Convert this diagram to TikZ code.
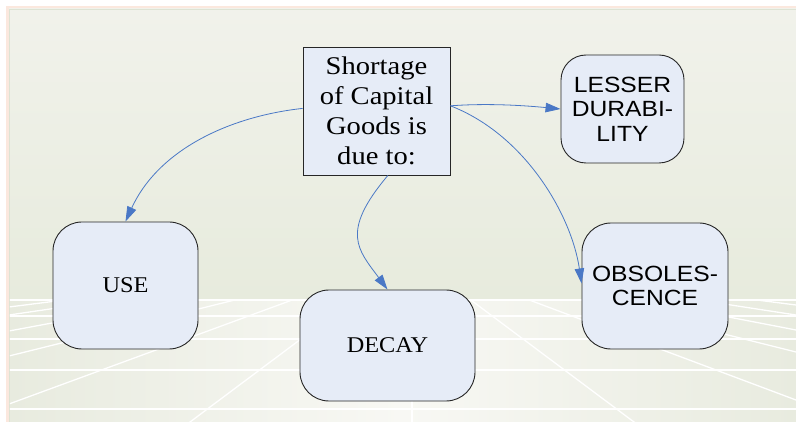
\documentclass[tikz,border=0pt]{standalone}
\usepackage{fontspec}
\setmainfont{Liberation Serif}
\newfontfamily\titleserif[FakeStretch=1.12]{Liberation Serif}
\newfontfamily\labelserif[FakeStretch=1.08]{Liberation Serif}
\newfontfamily\labelsans[FakeStretch=1.12]{Liberation Sans}
\usetikzlibrary{arrows.meta,calc}

\definecolor{nodefill}{HTML}{E6ECF7}
\definecolor{linkblue}{HTML}{4A78C6}
\definecolor{wallTop}{HTML}{F1F2EB}
\definecolor{wallLow}{HTML}{E7EBDD}
\definecolor{floorEdge}{HTML}{E8EBDF}
\definecolor{floorMid}{HTML}{F8F8F4}
\definecolor{rim}{HTML}{FBE8DE}
\definecolor{rimInner}{HTML}{DDE3D4}

\tikzset{
  gridline/.style={white, line width=1.3pt},
  causebox/.style={draw=black!85, fill=nodefill, line width=0.9pt,
    rounded corners=29pt, align=center, inner sep=0pt},
  serifcause/.style={causebox, font=\labelserif\fontsize{22.5pt}{26pt}\selectfont},
  sanscause/.style={causebox, font=\labelsans\fontsize{22pt}{24.5pt}\selectfont},
  headbox/.style={draw=black!85, fill=nodefill, line width=0.9pt, align=center,
    inner sep=0pt, minimum width=147pt, minimum height=128pt,
    font=\titleserif\fontsize{25.5pt}{30pt}\selectfont},
  link/.style={draw=linkblue, line width=0.8pt,
    -{Triangle[length=15pt,width=9.5pt]}},
}

\begin{document}
\begin{tikzpicture}[x=1pt,y=-1pt]
\useasboundingbox (0,0) rectangle (796,422);
\fill[white] (0,0) rectangle (796,422);

% slide frame and backdrop
\fill[rim] (6,6) rectangle (796,422);
\shade[top color=wallTop, bottom color=wallLow] (9,9) rectangle (796,300);
\shade[left color=floorEdge, right color=floorEdge, middle color=floorMid]
  (9,300) rectangle (796,422);
\draw[rimInner, line width=0.8pt] (9.4,422) -- (9.4,9.4) -- (796,9.4);

% perspective floor grid
\begin{scope}
  \clip (9.8,300) rectangle (796,422);
  \coordinate (vp) at (412,256);
  \foreach \y in {300,316,339,370,409}
    \draw[gridline] (9,\y) -- (796,\y);
  \foreach \y in {307,315,331,356,404}
    \draw[gridline] (vp) -- ($(vp)!1.05!(9,\y)$);
  \foreach \y in {305,315,330,352,400}
    \draw[gridline] (vp) -- ($(vp)!1.05!(796,\y)$);
  \foreach \x in {190,412,634}
    \draw[gridline] (vp) -- ($(vp)!1.05!(\x,422)$);
\end{scope}

% nodes
\node[headbox] (main) at (376.5,111) {Shortage\\of Capital\\Goods is\\due to:};
\node[sanscause, rounded corners=25pt, minimum width=123pt, minimum height=108pt]
  (lesser) at (622.5,109) {LESSER\\DURABI-\\LITY};
\node[serifcause, minimum width=145pt, minimum height=127pt]
  (use) at (125.5,285.5) {USE};
\node[serifcause, minimum width=175pt, minimum height=111pt]
  (decay) at (387.5,345.5) {DECAY};
\node[sanscause, minimum width=146pt, minimum height=126pt]
  (obs) at (655,286) {OBSOLES-\\CENCE};

% connectors
\draw[link] (main.178) .. controls +(-73,8) and +(33,-72) .. (use.north);
\draw[link] (main.-80) .. controls +(-48,57) and +(-29.5,-40) .. (decay.north);
\draw[link] (main.4) .. controls +(40,-3) and +(-31,-3) .. (lesser.west);
\draw[link] (main.4) .. controls +(75,29) and +(-10,-68) .. (obs.178);
\end{tikzpicture}
\end{document}
